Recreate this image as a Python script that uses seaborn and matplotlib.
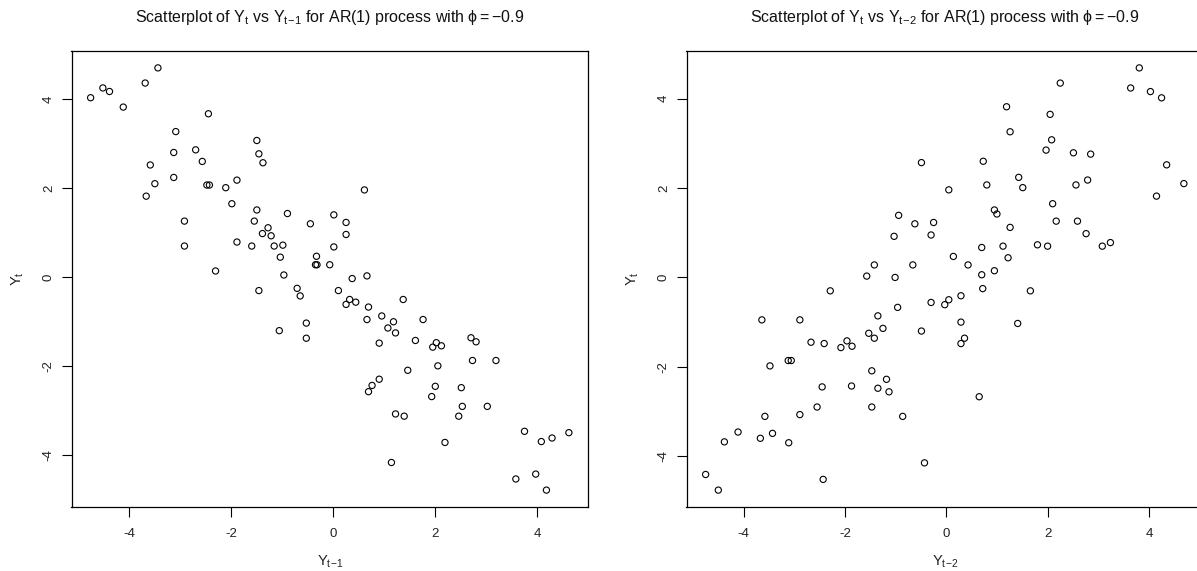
import matplotlib
matplotlib.use("Agg")
import matplotlib.pyplot as plt
import numpy as np
import pandas as pd
import seaborn as sns

# Lag-1 pairs (Y_{t-1}, Y_t)
lag1_x = [-4.76, -4.52, -4.39, -4.12, -3.69, -3.44, -2.45, -3.09, -3.13, -2.70,
          -2.57, -3.59, -3.13, -3.50, -3.67, -2.48, -2.43, -2.11, -1.89, -1.99,
          -1.50, -1.46, -1.38, -1.50, -0.90, -1.55, -2.92, -2.92, -1.28, -1.39,
          -1.22, -1.89, -1.60, -1.16, -0.99, -1.04, -0.45, -0.33, -0.35, -0.32,
          -0.07, -2.31, -0.97, 0.61, 0.01, 0.25, 0.25, 0.01, 0.37, 0.66,
          0.10, 0.32, 0.25, 0.44, 1.37, 0.69, 0.66, 0.95, 1.18, 1.07,
          1.22, 1.76, 0.90, 1.61, 2.02, 1.95, 2.12, 2.70, 2.80, -0.53,
          -0.53, 2.73, 3.19, 2.05, 1.46, 0.90, 0.76, 0.69, 2.00, 1.93,
          2.51, 2.53, 2.46, 3.02, 1.22, 1.39, 2.19, 1.14, 3.75, 4.08,
          4.29, 4.62, 3.58, 3.97, 4.18, -1.46, -0.71, -0.65, -1.06]
lag1_y = [4.03, 4.25, 4.17, 3.82, 4.36, 4.70, 3.67, 3.27, 2.80, 2.86,
          2.60, 2.52, 2.24, 2.10, 1.82, 2.07, 2.07, 2.01, 2.18, 1.65,
          3.07, 2.77, 2.57, 1.51, 1.43, 1.26, 1.26, 0.70, 1.11, 0.98,
          0.93, 0.79, 0.70, 0.70, 0.72, 0.45, 1.20, 0.47, 0.28, 0.28,
          0.28, 0.14, 0.05, 1.96, 1.40, 1.23, 0.96, 0.68, -0.03, 0.03,
          -0.30, -0.50, -0.61, -0.56, -0.50, -0.67, -0.95, -0.87, -1.00, -1.14,
          -1.25, -0.95, -1.48, -1.42, -1.47, -1.57, -1.54, -1.36, -1.45, -1.03,
          -1.37, -1.87, -1.87, -1.99, -2.09, -2.29, -2.43, -2.57, -2.45, -2.68,
          -2.48, -2.90, -3.12, -2.90, -3.07, -3.12, -3.71, -4.16, -3.46, -3.69,
          -3.61, -3.49, -4.53, -4.42, -4.78, -0.30, -0.25, -0.42, -1.20]

# Lag-2 pairs (Y_{t-2}, Y_t)
lag2_x = [-0.49, -0.94, -0.62, -1.03, -0.30, -1.42, -0.66, -1.57, -1.01, 3.81,
          2.25, 3.64, 4.03, 4.25, 1.19, 2.05, 1.26, 2.08, 1.97, 2.51,
          2.85, 0.73, 4.35, 1.43, 1.51, 0.80, 0.05, 2.79, 2.56, 4.69,
          4.15, 2.10, 0.95, 1.00, -0.25, 1.26, 2.17, 2.59, 2.76, 0.70,
          1.12, 1.80, 2.00, 3.08, 3.24, 0.14, 1.22, 0.43, 0.70, 0.95,
          -2.29, -0.96, -0.30, -3.64, -2.89, -1.35, -1.25, -1.53, -1.42, -0.49,
          -2.67, -2.41, -2.08, -1.96, -1.86, -3.12, -3.06, -3.48, -1.47, -1.18,
          -1.35, -1.13, -2.45, -1.87, -2.55, -1.47, -0.86, -2.89, -3.58, -4.11,
          -3.43, -3.67, -4.38, -3.11, -0.43, -2.43, -4.75, -4.50, 0.72, 1.66,
          0.29, 0.05, -0.03, 0.29, 1.41, 0.36, 0.29, 0.65]
lag2_y = [2.57, 1.39, 1.20, 0.92, 0.95, 0.28, 0.28, 0.03, 0.00, 4.69,
          4.35, 4.24, 4.16, 4.02, 3.82, 3.65, 3.26, 3.08, 2.85, 2.79,
          2.76, 2.60, 2.52, 2.24, 2.01, 2.07, 1.96, 2.18, 2.07, 2.10,
          1.82, 1.65, 1.51, 1.42, 1.23, 1.12, 1.26, 1.26, 0.98, 0.67,
          0.70, 0.73, 0.70, 0.70, 0.78, 0.47, 0.44, 0.28, 0.06, 0.15,
          -0.30, -0.67, -0.56, -0.95, -0.95, -0.86, -1.14, -1.25, -1.36, -1.20,
          -1.45, -1.48, -1.57, -1.42, -1.54, -1.86, -1.86, -1.98, -2.09, -2.28,
          -2.48, -2.56, -2.45, -2.43, -2.90, -2.90, -3.11, -3.07, -3.11, -3.46,
          -3.49, -3.60, -3.68, -3.70, -4.15, -4.52, -4.41, -4.76, -0.25, -0.30,
          -0.41, -0.50, -0.61, -1.00, -1.03, -1.36, -1.48, -2.67]

ticks = [-4, -2, 0, 2, 4]
titles = [r"Scatterplot of $\mathregular{Y_t}$ vs $\mathregular{Y_{t\!-\!1}}$ for AR(1) process with $\mathregular{\phi = -0.9}$",
          r"Scatterplot of $\mathregular{Y_t}$ vs $\mathregular{Y_{t\!-\!2}}$ for AR(1) process with $\mathregular{\phi = -0.9}$"]
xlabels = [r"$\mathregular{Y_{t\!-\!1}}$", r"$\mathregular{Y_{t\!-\!2}}$"]
ylabel = r"$\mathregular{Y_t}$"

sns.set_theme(style="white")
plt.rcParams["font.family"] = ["Liberation Sans", "DejaVu Sans"]
plt.rcParams["mathtext.fontset"] = "custom"
plt.rcParams["mathtext.rm"] = "Liberation Sans"
plt.rcParams["mathtext.it"] = "Liberation Sans"
plt.rcParams["mathtext.sf"] = "Liberation Sans"

W, H = 1197, 571
fig = plt.figure(figsize=(W / 100, H / 100), dpi=100)
fig.patch.set_facecolor("white")

boxes = [(71.5, 51, 516.5, 456), (686.5, 51, 516.5, 456)]
data = [(lag1_x, lag1_y), (lag2_x, lag2_y)]

for i in range(2):
    l, t, w, h = boxes[i]
    ax = fig.add_axes([l / W, 1 - (t + h) / H, w / W, h / H])
    df = pd.DataFrame({"x": data[i][0], "y": data[i][1]})
    sns.scatterplot(data=df, x="x", y="y", ax=ax, marker="o", s=20,
                    facecolors="none", edgecolor="black", linewidth=0.8)
    ax.margins(x=0.04, y=0.04)
    ax.set_xticks(ticks)
    ax.set_yticks(ticks)
    ax.set_xticklabels([str(v) for v in ticks])
    ax.set_yticklabels([str(v) for v in ticks])
    for s in ax.spines.values():
        s.set_visible(True)
        s.set_color("black")
        s.set_linewidth(0.9)
    ax.tick_params(axis="both", which="major", direction="out", length=7,
                   width=0.8, color="black", labelsize=9.5, labelcolor="#222222",
                   bottom=True, left=True, top=False, right=False)
    ax.tick_params(axis="x", pad=8)
    ax.tick_params(axis="y", pad=5, labelrotation=90)
    for lab in ax.get_yticklabels():
        lab.set_verticalalignment("center")
    ax.set_title(titles[i], fontsize=11.5, pad=21, color="#111111")
    ax.set_xlabel(xlabels[i], fontsize=10.5, labelpad=10, color="#222222")
    ax.set_ylabel(ylabel, fontsize=10.5, labelpad=12, color="#222222")
    ax.grid(False)

fig.savefig("out.png", dpi=100, facecolor="white")
